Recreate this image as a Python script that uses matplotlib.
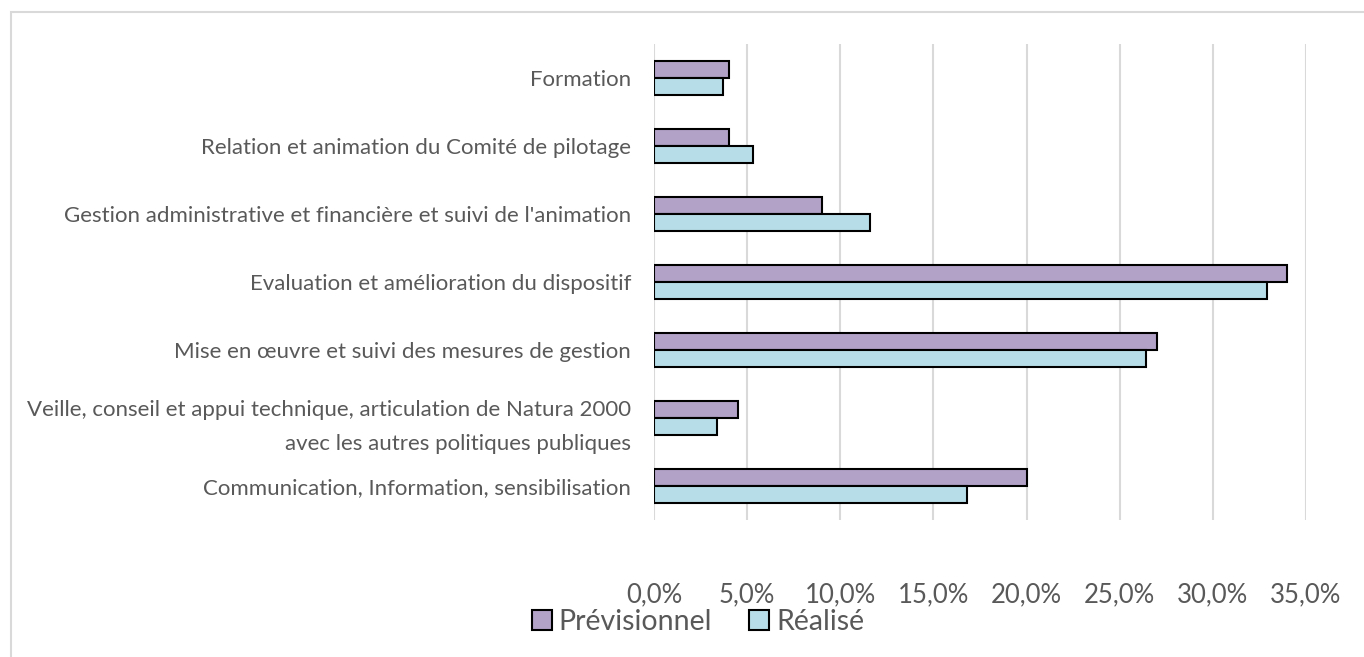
import matplotlib.pyplot as plt
import numpy as np
from matplotlib.patches import Rectangle

plt.rcParams['font.family'] = ['Lato', 'DejaVu Sans']

categories = [
    "Communication, Information, sensibilisation",
    "Veille, conseil et appui technique, articulation de Natura 2000\navec les autres politiques publiques",
    "Mise en œuvre et suivi des mesures de gestion",
    "Evaluation et amélioration du dispositif",
    "Gestion administrative et financière et suivi de l'animation",
    "Relation et animation du Comité de pilotage",
    "Formation",
]
previsionnel = [20.0, 4.5, 27.0, 34.0, 9.0, 4.0, 4.0]
realise = [16.8, 3.4, 26.4, 32.9, 11.6, 5.3, 3.7]
xticks = [0, 5, 10, 15, 20, 25, 30, 35]

col_prev = '#b2a2c7'
col_real = '#b7dee8'
txt = '#595959'

fig = plt.figure(figsize=(13.64, 6.57), dpi=100)
ax = fig.add_axes([654 / 1364, 1 - 520 / 657, 652 / 1364, 476 / 657])

y = np.arange(len(categories))
h = 0.25
ax.barh(y + h / 2, previsionnel, height=h, color=col_prev, edgecolor='black', linewidth=1.5,
        label='Prévisionnel', zorder=3)
ax.barh(y - h / 2, realise, height=h, color=col_real, edgecolor='black', linewidth=1.5,
        label='Réalisé', zorder=3)

ax.set_xlim(0, 35)
ax.set_ylim(-0.5, len(categories) - 0.5)
ax.set_xticks(xticks)
ax.set_xticklabels([('%.1f%%' % v).replace('.', ',') for v in xticks], fontsize=18.5, color=txt)
ax.set_yticks(y)
ax.set_yticklabels(categories, fontsize=16, color=txt, linespacing=1.85)
ax.tick_params(axis='x', length=0, pad=45)
ax.tick_params(axis='y', length=0, pad=16.5)
ax.xaxis.grid(True, color='#d9d9d9', linewidth=1.5, zorder=0)
for s in ax.spines.values():
    s.set_visible(False)

leg = fig.legend(loc='center', bbox_to_anchor=(698 / 1364, 1 - 622 / 657), ncol=2, frameon=False,
                 fontsize=20.5, handlelength=0.7, handleheight=0.7, handletextpad=0.25,
                 columnspacing=1.3)
for t in leg.get_texts():
    t.set_color(txt)

fig.patches.append(Rectangle((11 / 1364, -0.1), 1.2, 1 - 12 / 657 + 0.1, transform=fig.transFigure,
                             fill=False, edgecolor='#d9d9d9', linewidth=1.5))

fig.savefig('out.png', dpi=100)
